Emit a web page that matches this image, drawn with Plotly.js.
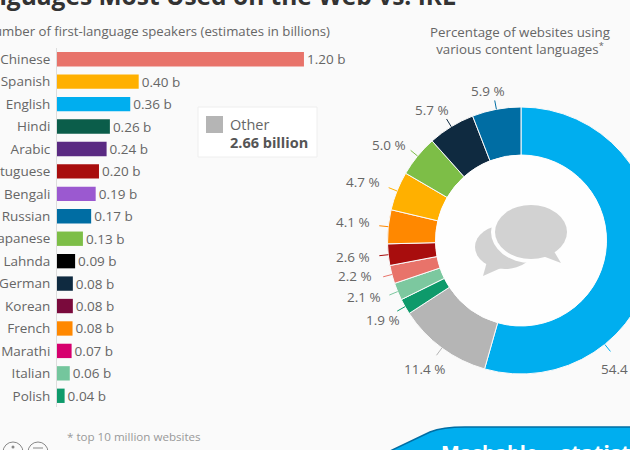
<!DOCTYPE html>
<html><head><meta charset="utf-8">
<script src="https://cdn.plot.ly/plotly-3.0.1.min.js"></script>
<style>html,body{margin:0;padding:0;overflow:hidden;background:#fafafa;width:630px;height:450px}#c{width:700px;height:450px}</style>
</head><body><div id="c"></div>
<script>
// Left chart: first-language speakers (billions). Lengths; labels round to 2 dp.
const languages = ["Chinese","Spanish","English","Hindi","Arabic","Portuguese","Bengali","Russian","Japanese","Lahnda","German","Korean","French","Marathi","Italian","Polish"];
const speakers = [1.20,0.397,0.356,0.257,0.241,0.204,0.188,0.166,0.126,0.088,0.077,0.077,0.0755,0.071,0.062,0.037];
const barColors = ["#E8736A","#FFB000","#00AEEF","#0B5D4A","#5A2A82","#A80D0D","#9B59D0","#006DA3","#7DBE47","#000000","#0F2A40","#7A0A3C","#FF8800","#D6006E","#74C69D","#0E9A6B"];
// Right chart: share of websites per content language (%)
const webShares = [54.4,11.4,1.9,2.1,2.2,2.6,4.1,4.7,5.0,5.7,5.9];
const webLabels = ["English","Other","Polish","Italian","Chinese","Portuguese","French","Spanish","Japanese","German","Russian"];
const webColors = ["#00AEEF","#B5B5B5","#0E9A6B","#7CC89F","#E8736A","#A80D0D","#FF8800","#FFB000","#7DBE47","#0F2A40","#006DA3"];

const W=700,H=450;
const px=x=>x/W, py=y=>1-y/H;
const GREY="#666666", FONT="'Open Sans', sans-serif";
const cx=521, cy=240.5, R=133.5, holeR=85.5;

const traces=[
 {type:"bar",orientation:"h",y:languages,x:speakers,marker:{color:barColors,line:{width:0}},
  width:0.64,texttemplate:"%{x:.2f} b",textposition:"outside",cliponaxis:false,constraintext:"none",
  textfont:{family:FONT,size:13.5,color:GREY},hoverinfo:"skip"},
 {type:"pie",values:webShares,labels:webLabels,sort:false,direction:"clockwise",rotation:0,hole:holeR/R,
  marker:{colors:webColors,line:{color:"#fafafa",width:1}},textinfo:"none",hoverinfo:"skip",showlegend:false,
  domain:{x:[px(cx-R),px(cx+R)],y:[py(cy+R),py(cy-R)]}}
];

// Label centres for the donut (pixels), in slice order
const labelSpots=[[621,369],[425,369],[383,320],[364,297],[355,276],[353,257],[353,222],[363,182],[389,145],[432,110],[488,91]];
const anns=[], shapes=[];
const line=(x0,y0,x1,y1,c,w)=>shapes.push({type:"line",xref:"paper",yref:"paper",x0:px(x0),y0:py(y0),x1:px(x1),y1:py(y1),line:{color:c,width:w||1}});
const text=(t,x,y,size,color,anchor,bold,extra)=>anns.push(Object.assign({text:bold?"<b>"+t+"</b>":t,xref:"paper",yref:"paper",x:px(x),y:py(y),xanchor:anchor||"left",yanchor:"middle",showarrow:false,font:{family:FONT,size:size,color:color}},extra||{}));

let cum=0;
webShares.forEach((v,i)=>{
  // the big slice's leader sits low on its arc rather than at the slice middle
  const mid=i===0?39.2:cum+v/2; cum+=v;
  const a=mid/100*2*Math.PI, s=Math.sin(a), c=-Math.cos(a);
  line(cx+s*R,cy+c*R,cx+s*(R+9),cy+c*(R+9),webColors[i],1);
  text(v.toFixed(1)+" %",labelSpots[i][0],labelSpots[i][1],13.5,GREY,"center");
});

// Headline and subtitles
text("The Languages Most Used on the Web vs. IRL",458,-5,24.5,"#333333","right",true);
text("Number of first-language speakers (estimates in billions)",332,31,13.2,GREY,"right");
text("Percentage of websites using<br>various content languages<sup>*</sup>",520,40,13.3,GREY,"center");
text("* top 10 million websites",65,436,11.6,"#999999","left");

// "Other" callout
shapes.push({type:"rect",xref:"paper",yref:"paper",x0:px(198),x1:px(317),y0:py(107),y1:py(157),fillcolor:"#ffffff",line:{color:"#eeeeee",width:1}});
shapes.push({type:"rect",xref:"paper",yref:"paper",x0:px(206),x1:px(223),y0:py(116),y1:py(133),fillcolor:"#B5B5B5",line:{width:0}});
text("Other",228,124,14.5,GREY,"left");
text("2.66 billion",228,142,14.5,"#555555","left",true);

// Donut hole and speech bubbles
const ell=(x,y,rx,ry,c)=>shapes.push({type:"circle",xref:"paper",yref:"paper",x0:px(x-rx),x1:px(x+rx),y0:py(y+ry),y1:py(y-ry),fillcolor:c,line:{width:0}});
const poly=(pts,c,lc,lw)=>shapes.push({type:"path",xref:"paper",yref:"paper",path:pts,fillcolor:c,line:{color:lc||c,width:lw||0}});
const P=(x,y)=>px(x)+","+py(y);
ell(cx,cy,holeR,holeR,"#fefefe");
ell(505,247,30,22,"#d2d2d2");
poly("M"+P(488,258)+"L"+P(483,276)+"L"+P(510,264)+"Z","#d2d2d2");
ell(531,232,40,31,"#fefefe");
ell(531,232,36,27,"#d2d2d2");
poly("M"+P(540,255)+"L"+P(561,263)+"L"+P(552,248)+"Z","#d2d2d2");

// Footer banner
poly("M"+P(388,452)+"L"+P(430,432)+"C"+P(440,428)+" "+P(452,427)+" "+P(465,427)+"L"+P(700,427)+"L"+P(700,452)+"Z","#00AEEF","#006DA3",1.5);
text("Mashable",489,453,20,"#ffffff","center",true);
text("statista",558,452,22,"#ffffff","left",true);

// Footer icons
[13,38].forEach(x=>shapes.push({type:"circle",xref:"paper",yref:"paper",x0:px(x-10),x1:px(x+10),y0:py(452+10),y1:py(452-10),line:{color:"#888888",width:1},fillcolor:"rgba(0,0,0,0)"}));
ell(13,447,1.5,1.5,"#888888");
line(33,448,43,448,"#888888",1);

const layout={width:W,height:H,margin:{l:0,r:0,t:0,b:0},paper_bgcolor:"#fafafa",plot_bgcolor:"rgba(0,0,0,0)",showlegend:false,
 xaxis:{domain:[px(57),px(350)],range:[0,293/205.8],visible:false,fixedrange:true},
 yaxis:{domain:[py(407),py(48)],autorange:"reversed",type:"category",showline:true,linecolor:"#dddddd",linewidth:1,
  ticks:"outside",ticklen:3,tickcolor:"rgba(0,0,0,0)",showgrid:false,zeroline:false,
  tickfont:{family:FONT,size:13.5,color:GREY},fixedrange:true},
 annotations:anns,shapes:shapes};
Plotly.newPlot("c",traces,layout,{displayModeBar:false,staticPlot:true});
</script></body></html>
